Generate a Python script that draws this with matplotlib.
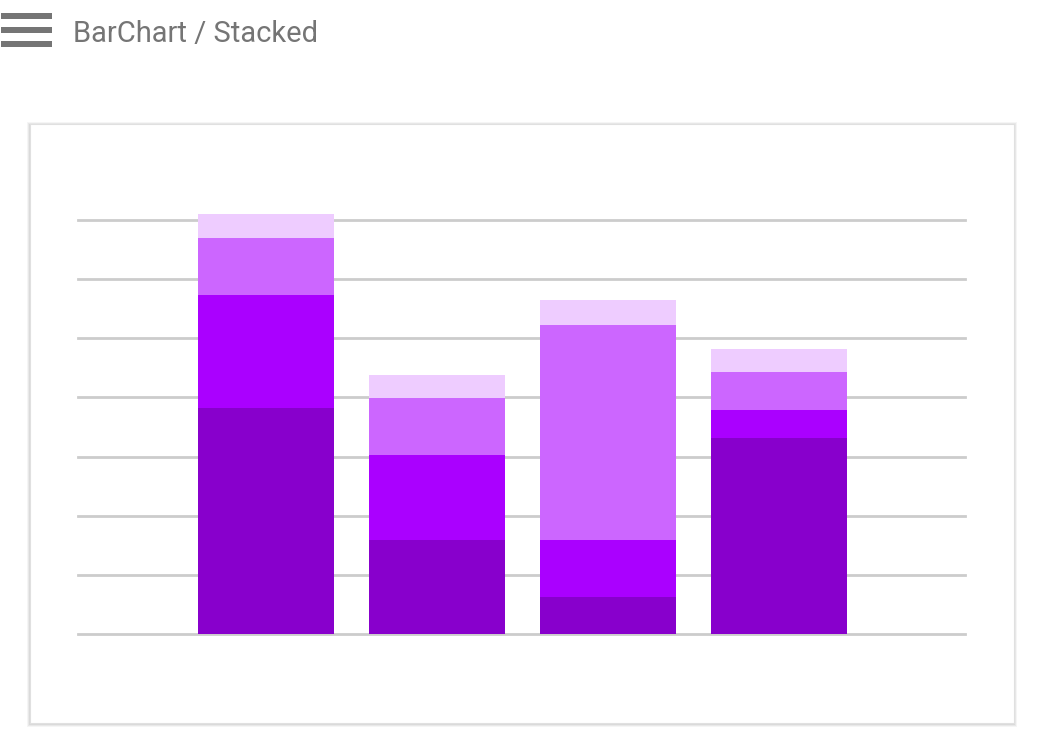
import matplotlib
matplotlib.use("Agg")
import matplotlib.pyplot as plt
from matplotlib.patches import Rectangle, FancyBboxPatch
import numpy as np

categories = ["A", "B", "C", "D"]
s1 = [3.82, 1.59, 0.63, 3.32]
s2 = [1.91, 1.44, 0.96, 0.47]
s3 = [0.96, 0.96, 3.64, 0.64]
s4 = [0.41, 0.39, 0.41, 0.39]
colors = ["#8800cc", "#aa00ff", "#cc66ff", "#eeccff"]

W, H = 1056, 755
fig = plt.figure(figsize=(W/100, H/100), dpi=100)
fig.patch.set_facecolor("white")

# card with shadow
for i, a in enumerate([0.06, 0.05, 0.04]):
    fig.patches.append(Rectangle(((30-1-i)/W, 1-(723+2+i)/H), (984+2+2*i)/W, (599+2+2*i)/H,
                                 transform=fig.transFigure, facecolor="black", alpha=a, edgecolor="none", zorder=0))
fig.patches.append(Rectangle((30/W, 1-723/H), 984/W, 599/H, transform=fig.transFigure,
                             facecolor="white", edgecolor="#e0e0e0", lw=0.8, zorder=1))

# header
for yy in [16, 30, 44]:
    fig.patches.append(Rectangle((1/W, 1-(yy+3)/H), 51/W, 6/H, transform=fig.transFigure,
                                 facecolor="#757575", edgecolor="none"))
fig.text(73/W, 1-34/H, "BarChart / Stacked", fontsize=21, color="#757575",
         va="center", ha="left", family="Roboto")

ax = fig.add_axes([78/W, 1-634/H, (965-78)/W, (634-220)/H])
ax.set_facecolor("none")
ax.set_zorder(2)
x = np.arange(len(categories))
bottom = np.zeros(len(categories))
for vals, c in zip([s1, s2, s3, s4], colors):
    ax.bar(x, vals, bottom=bottom, width=0.795, color=c, zorder=3, clip_on=False)
    bottom += np.array(vals)
ax.set_xlim(-1.1, 4.09)
ax.set_ylim(0, 7)
for v in range(8):
    ax.axhline(v, color="#cccccc", lw=2, zorder=1, clip_on=False)
for s in ax.spines.values():
    s.set_visible(False)
ax.set_xticks([]); ax.set_yticks([])
fig.savefig("out.png", dpi=100)
